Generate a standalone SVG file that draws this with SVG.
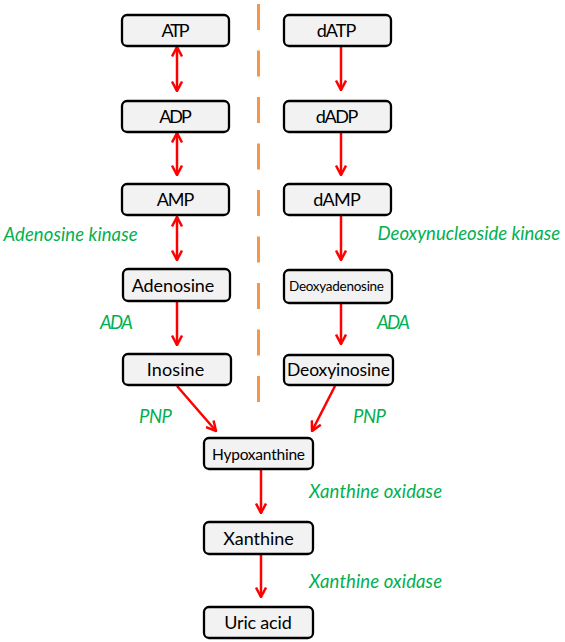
<svg xmlns="http://www.w3.org/2000/svg" width="565" height="642" viewBox="0 0 565 642">
<style>
.box{fill:#F2F2F2;stroke:#000;stroke-width:2.3}
.lbl{font-family:Lato,"Liberation Sans",sans-serif;font-size:18px;fill:#000;text-anchor:middle}
.enz{font-family:Lato,"Liberation Sans",sans-serif;font-size:18.5px;font-style:italic;fill:#00B050}
.arr{stroke:#FF0000;stroke-width:2.5;fill:none}
</style>
<defs>
<marker id="ah" viewBox="0 0 12 12" refX="11" refY="6" markerWidth="12" markerHeight="12" markerUnits="userSpaceOnUse" orient="auto-start-reverse">
<path d="M1.5,1 L11,6 L1.5,11" fill="none" stroke="#FF0000" stroke-width="2.5"/>
</marker>
</defs>
<rect width="565" height="642" fill="#fff"/>
<line x1="258.5" y1="4" x2="258.5" y2="402" stroke="#F79646" stroke-width="3" stroke-dasharray="26 20.5"/>
<g id="connectors">
<line class="arr" x1="177" y1="47" x2="177" y2="91" marker-start="url(#ah)" marker-end="url(#ah)"/>
<line class="arr" x1="177" y1="133" x2="177" y2="175" marker-start="url(#ah)" marker-end="url(#ah)"/>
<line class="arr" x1="177" y1="217" x2="177" y2="260" marker-start="url(#ah)" marker-end="url(#ah)"/>
<line class="arr" x1="177" y1="301" x2="177" y2="345" marker-end="url(#ah)"/>
<line class="arr" x1="341" y1="46" x2="341" y2="90" marker-end="url(#ah)"/>
<line class="arr" x1="341" y1="132" x2="341" y2="175" marker-end="url(#ah)"/>
<line class="arr" x1="341" y1="215" x2="341" y2="260" marker-end="url(#ah)"/>
<line class="arr" x1="341" y1="303" x2="341" y2="344" marker-end="url(#ah)"/>
<line class="arr" x1="177" y1="386" x2="216" y2="431" marker-end="url(#ah)"/>
<line class="arr" x1="335" y1="386" x2="312" y2="431" marker-end="url(#ah)"/>
<line class="arr" x1="261" y1="469" x2="261" y2="513" marker-end="url(#ah)"/>
<line class="arr" x1="261" y1="554" x2="261" y2="597" marker-end="url(#ah)"/>
</g>
<g id="ATP"><rect class="box" x="122" y="15" width="107" height="31" rx="5"/><text class="lbl" x="175.5" y="37" textLength="28">ATP</text></g>
<g id="ADP"><rect class="box" x="122" y="101" width="107" height="31" rx="5"/><text class="lbl" x="175.5" y="123" textLength="32.5">ADP</text></g>
<g id="AMP"><rect class="box" x="122" y="184" width="107" height="31" rx="5"/><text class="lbl" x="175.5" y="206" textLength="37.5">AMP</text></g>
<g id="Adenosine"><rect class="box" x="123" y="269" width="107" height="32" rx="5"/><text class="lbl" x="173" y="291.5" textLength="82.5">Adenosine</text></g>
<g id="Inosine"><rect class="box" x="123" y="354" width="108" height="31" rx="5"/><text class="lbl" x="175.5" y="376" textLength="57.5">Inosine</text></g>
<g id="dATP"><rect class="box" x="284" y="15" width="107" height="31" rx="5"/><text class="lbl" x="336.5" y="37" textLength="39.5">dATP</text></g>
<g id="dADP"><rect class="box" x="284" y="101" width="107" height="31" rx="5"/><text class="lbl" x="337" y="123" textLength="42.5">dADP</text></g>
<g id="dAMP"><rect class="box" x="284" y="184" width="107" height="31" rx="5"/><text class="lbl" x="337" y="206" textLength="47.5">dAMP</text></g>
<g id="Deoxyadenosine"><rect class="box" x="284" y="270" width="108" height="33" rx="5"/><text class="lbl" x="336.5" y="291" style="font-size:13.5px" textLength="95">Deoxyadenosine</text></g>
<g id="Deoxyinosine"><rect class="box" x="284" y="355" width="109" height="30" rx="5"/><text class="lbl" x="338.5" y="376" style="font-size:17.5px" textLength="103">Deoxyinosine</text></g>
<g id="Hypoxanthine"><rect class="box" x="204" y="438" width="109" height="31" rx="5"/><text class="lbl" x="258.5" y="459.5" style="font-size:15.5px" textLength="93">Hypoxanthine</text></g>
<g id="Xanthine"><rect class="box" x="204" y="522" width="109" height="32" rx="5"/><text class="lbl" x="258.5" y="544.5" textLength="70.5">Xanthine</text></g>
<g id="UricAcid"><rect class="box" x="204" y="607" width="109" height="31" rx="5"/><text class="lbl" x="258" y="629" textLength="67.5">Uric acid</text></g>
<g id="labels">
<text class="enz" x="3.5" y="241" textLength="134">Adenosine kinase</text>
<text class="enz" x="377.5" y="240" textLength="182.5">Deoxynucleoside kinase</text>
<text class="enz" x="100" y="329" textLength="33">ADA</text>
<text class="enz" x="377" y="328.5" textLength="33">ADA</text>
<text class="enz" x="139" y="422.5" textLength="33">PNP</text>
<text class="enz" x="353" y="422.5" textLength="33">PNP</text>
<text class="enz" x="309" y="498" textLength="133">Xanthine oxidase</text>
<text class="enz" x="309" y="588" textLength="133">Xanthine oxidase</text>
</g>
</svg>
